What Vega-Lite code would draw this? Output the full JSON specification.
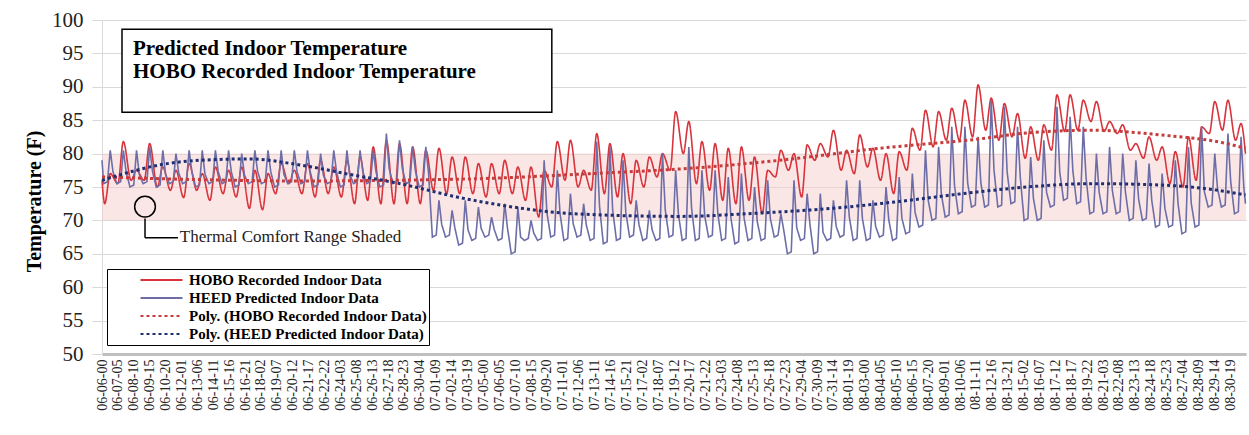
{
  "$schema": "https://vega.github.io/schema/vega-lite/v6.json",
  "width": 1144,
  "height": 334,
  "autosize": {"type": "none"},
  "padding": {"left": 102, "top": 20, "right": 3, "bottom": 81},
  "background": "white",
  "config": {"view": {"stroke": null}, "font": "Liberation Serif"},
  "datasets": {
    "band": [{"h": 0, "h2": 2088, "v": 70, "v2": 80}],
    "hobo": [
      {"h":0,"v":76},{"h":5,"v":72.5},{"h":15,"v":77},{"h":29,"v":75.5},{"h":39,"v":81.8},{"h":53,"v":76},{"h":63,"v":77.5},{"h":77,"v":76},{"h":87,"v":81.5},{"h":101,"v":75},{"h":111,"v":78},{"h":125,"v":74.5},{"h":135,"v":77.5},{"h":149,"v":73.4},{"h":159,"v":78.5},{"h":173,"v":74.5},{"h":183,"v":77},{"h":197,"v":73},{"h":207,"v":78},{"h":221,"v":74},{"h":231,"v":77.5},{"h":245,"v":73.5},{"h":255,"v":78},{"h":269,"v":71.8},{"h":279,"v":77.5},{"h":293,"v":71.6},{"h":303,"v":77},{"h":317,"v":74},{"h":327,"v":78.5},{"h":341,"v":75.5},{"h":351,"v":77.5},{"h":365,"v":74},{"h":375,"v":78.5},{"h":389,"v":73.5},{"h":399,"v":79},{"h":413,"v":74},{"h":423,"v":78},{"h":437,"v":73.5},{"h":447,"v":79},{"h":461,"v":72.5},{"h":471,"v":79.5},{"h":485,"v":73},{"h":495,"v":81},{"h":509,"v":72.5},{"h":519,"v":82},{"h":533,"v":72.5},{"h":543,"v":81.5},{"h":557,"v":72.5},{"h":567,"v":81},{"h":581,"v":72.5},{"h":591,"v":80.5},{"h":605,"v":74.5},{"h":615,"v":80.8},{"h":629,"v":74},{"h":639,"v":79.5},{"h":653,"v":74},{"h":663,"v":79.5},{"h":677,"v":74},{"h":687,"v":78.5},{"h":701,"v":73.5},{"h":711,"v":78.5},{"h":725,"v":74},{"h":735,"v":79},{"h":749,"v":74},{"h":759,"v":78},{"h":773,"v":73},{"h":783,"v":78},{"h":797,"v":70.5},{"h":807,"v":77.5},{"h":821,"v":75},{"h":831,"v":81.8},{"h":845,"v":76},{"h":855,"v":82},{"h":869,"v":75},{"h":879,"v":77.5},{"h":893,"v":74.5},{"h":903,"v":83},{"h":917,"v":74},{"h":927,"v":81.5},{"h":941,"v":73.5},{"h":951,"v":80},{"h":965,"v":72.5},{"h":975,"v":79},{"h":989,"v":75},{"h":999,"v":79.5},{"h":1013,"v":76.5},{"h":1023,"v":80},{"h":1037,"v":77.5},{"h":1047,"v":86.3},{"h":1061,"v":80},{"h":1071,"v":84.8},{"h":1085,"v":75.5},{"h":1095,"v":81.8},{"h":1109,"v":74.5},{"h":1119,"v":81.5},{"h":1133,"v":73},{"h":1143,"v":80.8},{"h":1157,"v":72.5},{"h":1167,"v":81},{"h":1181,"v":73},{"h":1191,"v":79.5},{"h":1205,"v":71},{"h":1215,"v":77.5},{"h":1229,"v":76.5},{"h":1239,"v":80.5},{"h":1253,"v":77.5},{"h":1263,"v":80},{"h":1277,"v":73.5},{"h":1287,"v":81.3},{"h":1301,"v":79},{"h":1311,"v":81.5},{"h":1325,"v":79.5},{"h":1335,"v":83.5},{"h":1349,"v":77.5},{"h":1359,"v":80.5},{"h":1373,"v":77},{"h":1383,"v":82.8},{"h":1397,"v":78},{"h":1407,"v":80.8},{"h":1421,"v":76},{"h":1431,"v":80},{"h":1445,"v":74},{"h":1455,"v":80.3},{"h":1469,"v":77.5},{"h":1479,"v":83.8},{"h":1493,"v":80.5},{"h":1503,"v":86.5},{"h":1517,"v":81},{"h":1527,"v":86.3},{"h":1541,"v":82},{"h":1551,"v":86.8},{"h":1565,"v":82},{"h":1575,"v":88},{"h":1589,"v":82.5},{"h":1599,"v":90.3},{"h":1613,"v":83.5},{"h":1623,"v":88.3},{"h":1637,"v":82},{"h":1647,"v":87.5},{"h":1661,"v":82.5},{"h":1671,"v":86},{"h":1685,"v":79.3},{"h":1695,"v":84},{"h":1709,"v":79},{"h":1719,"v":84.3},{"h":1733,"v":80.5},{"h":1743,"v":88.8},{"h":1757,"v":83.3},{"h":1767,"v":88.8},{"h":1781,"v":83.5},{"h":1791,"v":88},{"h":1805,"v":84.8},{"h":1815,"v":87.8},{"h":1829,"v":83.3},{"h":1839,"v":84.8},{"h":1853,"v":83},{"h":1863,"v":84.3},{"h":1877,"v":80.5},{"h":1887,"v":81.5},{"h":1901,"v":79.3},{"h":1911,"v":82.5},{"h":1925,"v":79},{"h":1935,"v":81},{"h":1949,"v":75.5},{"h":1959,"v":80.3},{"h":1973,"v":75},{"h":1983,"v":82.5},{"h":1997,"v":76},{"h":2007,"v":84},{"h":2021,"v":83},{"h":2031,"v":87.8},{"h":2045,"v":83.5},{"h":2055,"v":88},{"h":2069,"v":82},{"h":2079,"v":84.5},{"h":2087,"v":80}
    ],
    "heed": [
      {"h":0,"v":79},
      {"h":3,"v":75.5},{"h":10,"v":75.8},{"h":15,"v":80.5},{"h":20,"v":77.3},
      {"h":27,"v":75.5},{"h":34,"v":75.8},{"h":39,"v":80.5},{"h":44,"v":77.3},
      {"h":51,"v":75},{"h":58,"v":75.3},{"h":63,"v":80.5},{"h":68,"v":76.9},
      {"h":75,"v":75.5},{"h":82,"v":75.8},{"h":87,"v":81},{"h":92,"v":77.4},
      {"h":99,"v":75},{"h":106,"v":75.3},{"h":111,"v":80.5},{"h":116,"v":76.9},
      {"h":123,"v":75.5},{"h":130,"v":75.8},{"h":135,"v":80},{"h":140,"v":77.1},
      {"h":147,"v":75.5},{"h":154,"v":75.8},{"h":159,"v":80.5},{"h":164,"v":77.3},
      {"h":171,"v":75},{"h":178,"v":75.3},{"h":183,"v":80.5},{"h":188,"v":76.9},
      {"h":195,"v":75.5},{"h":202,"v":75.8},{"h":207,"v":80.5},{"h":212,"v":77.3},
      {"h":219,"v":75.5},{"h":226,"v":75.8},{"h":231,"v":80.5},{"h":236,"v":77.3},
      {"h":243,"v":75},{"h":250,"v":75.3},{"h":255,"v":80},{"h":260,"v":76.8},
      {"h":267,"v":75.5},{"h":274,"v":75.8},{"h":279,"v":80.5},{"h":284,"v":77.3},
      {"h":291,"v":75.5},{"h":298,"v":75.8},{"h":303,"v":80.5},{"h":308,"v":77.3},
      {"h":315,"v":75},{"h":322,"v":75.3},{"h":327,"v":80.5},{"h":332,"v":76.9},
      {"h":339,"v":75.5},{"h":346,"v":75.8},{"h":351,"v":80.5},{"h":356,"v":77.3},
      {"h":363,"v":75.5},{"h":370,"v":75.8},{"h":375,"v":80.5},{"h":380,"v":77.3},
      {"h":387,"v":75},{"h":394,"v":75.3},{"h":399,"v":80},{"h":404,"v":76.8},
      {"h":411,"v":75.5},{"h":418,"v":75.8},{"h":423,"v":80.5},{"h":428,"v":77.3},
      {"h":435,"v":75},{"h":442,"v":75.3},{"h":447,"v":80.5},{"h":452,"v":76.9},
      {"h":459,"v":75.5},{"h":466,"v":75.8},{"h":471,"v":80.5},{"h":476,"v":77.3},
      {"h":483,"v":75.5},{"h":490,"v":75.8},{"h":495,"v":80.5},{"h":500,"v":77.3},
      {"h":507,"v":75},{"h":514,"v":75.3},{"h":519,"v":83},{"h":524,"v":77.8},
      {"h":531,"v":75.5},{"h":538,"v":75.8},{"h":543,"v":82},{"h":548,"v":77.8},
      {"h":555,"v":75.5},{"h":562,"v":75.8},{"h":567,"v":81},{"h":572,"v":77.4},
      {"h":579,"v":75},{"h":586,"v":75.3},{"h":591,"v":81},{"h":596,"v":77.1},
      {"h":603,"v":67.5},{"h":610,"v":67.8},{"h":615,"v":73},{"h":620,"v":69.4},
      {"h":627,"v":67.5},{"h":634,"v":67.8},{"h":639,"v":71.5},{"h":644,"v":68.9},
      {"h":651,"v":66.3},{"h":658,"v":66.6},{"h":663,"v":73},{"h":668,"v":68.6},
      {"h":675,"v":67},{"h":682,"v":67.3},{"h":687,"v":72},{"h":692,"v":68.8},
      {"h":699,"v":67.5},{"h":706,"v":67.8},{"h":711,"v":70.5},{"h":716,"v":68.6},
      {"h":723,"v":67},{"h":730,"v":67.3},{"h":735,"v":72.5},{"h":740,"v":68.9},
      {"h":747,"v":65},{"h":754,"v":65.3},{"h":759,"v":72},{"h":764,"v":67.5},
      {"h":771,"v":67},{"h":778,"v":67.3},{"h":783,"v":70},{"h":788,"v":68.1},
      {"h":795,"v":67},{"h":802,"v":67.3},{"h":807,"v":79},{"h":812,"v":71.2},
      {"h":819,"v":67.5},{"h":826,"v":67.8},{"h":831,"v":77.5},{"h":836,"v":71},
      {"h":843,"v":67},{"h":850,"v":67.3},{"h":855,"v":74},{"h":860,"v":69.5},
      {"h":867,"v":67.5},{"h":874,"v":67.8},{"h":879,"v":72.5},{"h":884,"v":69.3},
      {"h":891,"v":67},{"h":898,"v":67.3},{"h":903,"v":81.8},{"h":908,"v":72.2},
      {"h":915,"v":66.5},{"h":922,"v":66.8},{"h":927,"v":81},{"h":932,"v":71.6},
      {"h":939,"v":67},{"h":946,"v":67.3},{"h":951,"v":79},{"h":956,"v":71.2},
      {"h":963,"v":67.5},{"h":970,"v":67.8},{"h":975,"v":73},{"h":980,"v":69.4},
      {"h":987,"v":67},{"h":994,"v":67.3},{"h":999,"v":71.5},{"h":1004,"v":68.6},
      {"h":1011,"v":67},{"h":1018,"v":67.3},{"h":1023,"v":80},{"h":1028,"v":71.6},
      {"h":1035,"v":67.5},{"h":1042,"v":67.8},{"h":1047,"v":77.5},{"h":1052,"v":71},
      {"h":1059,"v":67},{"h":1066,"v":67.3},{"h":1071,"v":81},{"h":1076,"v":71.9},
      {"h":1083,"v":67},{"h":1090,"v":67.3},{"h":1095,"v":77.5},{"h":1100,"v":70.7},
      {"h":1107,"v":67.5},{"h":1114,"v":67.8},{"h":1119,"v":77.5},{"h":1124,"v":71},
      {"h":1131,"v":67},{"h":1138,"v":67.3},{"h":1143,"v":76.5},{"h":1148,"v":70.3},
      {"h":1155,"v":66.5},{"h":1162,"v":66.8},{"h":1167,"v":77},{"h":1172,"v":70.3},
      {"h":1179,"v":67},{"h":1186,"v":67.3},{"h":1191,"v":75},{"h":1196,"v":69.8},
      {"h":1203,"v":67},{"h":1210,"v":67.3},{"h":1215,"v":76},{"h":1220,"v":70.2},
      {"h":1227,"v":67.5},{"h":1234,"v":67.8},{"h":1239,"v":71},{"h":1244,"v":68.7},
      {"h":1251,"v":65},{"h":1258,"v":65.3},{"h":1263,"v":76},{"h":1268,"v":68.9},
      {"h":1275,"v":67},{"h":1282,"v":67.3},{"h":1287,"v":74},{"h":1292,"v":69.5},
      {"h":1299,"v":65},{"h":1306,"v":65.3},{"h":1311,"v":74},{"h":1316,"v":68.2},
      {"h":1323,"v":67},{"h":1330,"v":67.3},{"h":1335,"v":73},{"h":1340,"v":69.1},
      {"h":1347,"v":67.5},{"h":1354,"v":67.8},{"h":1359,"v":76},{"h":1364,"v":70.5},
      {"h":1371,"v":67},{"h":1378,"v":67.3},{"h":1383,"v":76},{"h":1388,"v":70.2},
      {"h":1395,"v":67},{"h":1402,"v":67.3},{"h":1407,"v":73},{"h":1412,"v":69.1},
      {"h":1419,"v":67.5},{"h":1426,"v":67.8},{"h":1431,"v":75},{"h":1436,"v":70.1},
      {"h":1443,"v":67},{"h":1450,"v":67.3},{"h":1455,"v":76.5},{"h":1460,"v":70.3},
      {"h":1467,"v":68},{"h":1474,"v":68.3},{"h":1479,"v":77},{"h":1484,"v":71.2},
      {"h":1491,"v":69},{"h":1498,"v":69.3},{"h":1503,"v":80.5},{"h":1508,"v":73},
      {"h":1515,"v":70},{"h":1522,"v":70.3},{"h":1527,"v":81},{"h":1532,"v":73.9},
      {"h":1539,"v":70.5},{"h":1546,"v":70.8},{"h":1551,"v":84},{"h":1556,"v":75.2},
      {"h":1563,"v":71},{"h":1570,"v":71.3},{"h":1575,"v":84},{"h":1580,"v":75.6},
      {"h":1587,"v":72},{"h":1594,"v":72.3},{"h":1599,"v":82.5},{"h":1604,"v":75.7},
      {"h":1611,"v":72},{"h":1618,"v":72.3},{"h":1623,"v":88},{"h":1628,"v":77.6},
      {"h":1635,"v":72},{"h":1642,"v":72.3},{"h":1647,"v":87},{"h":1652,"v":77.3},
      {"h":1659,"v":72.5},{"h":1666,"v":72.8},{"h":1671,"v":84},{"h":1676,"v":76.5},
      {"h":1683,"v":70},{"h":1690,"v":70.3},{"h":1695,"v":79.5},{"h":1700,"v":73.3},
      {"h":1707,"v":70},{"h":1714,"v":70.3},{"h":1719,"v":82},{"h":1724,"v":74.2},
      {"h":1731,"v":72},{"h":1738,"v":72.3},{"h":1743,"v":87},{"h":1748,"v":77.3},
      {"h":1755,"v":73},{"h":1762,"v":73.3},{"h":1767,"v":85.5},{"h":1772,"v":77.4},
      {"h":1779,"v":72.5},{"h":1786,"v":72.8},{"h":1791,"v":84},{"h":1796,"v":76.5},
      {"h":1803,"v":71},{"h":1810,"v":71.3},{"h":1815,"v":80},{"h":1820,"v":74.2},
      {"h":1827,"v":71},{"h":1834,"v":71.3},{"h":1839,"v":81},{"h":1844,"v":74.5},
      {"h":1851,"v":71},{"h":1858,"v":71.3},{"h":1863,"v":80},{"h":1868,"v":74.2},
      {"h":1875,"v":70},{"h":1882,"v":70.3},{"h":1887,"v":79},{"h":1892,"v":73.2},
      {"h":1899,"v":70},{"h":1906,"v":70.3},{"h":1911,"v":78.5},{"h":1916,"v":73},
      {"h":1923,"v":69},{"h":1930,"v":69.3},{"h":1935,"v":77},{"h":1940,"v":71.8},
      {"h":1947,"v":69},{"h":1954,"v":69.3},{"h":1959,"v":79},{"h":1964,"v":72.5},
      {"h":1971,"v":68},{"h":1978,"v":68.3},{"h":1983,"v":81},{"h":1988,"v":72.6},
      {"h":1995,"v":69},{"h":2002,"v":69.3},{"h":2007,"v":84},{"h":2012,"v":74.3},
      {"h":2019,"v":72},{"h":2026,"v":72.3},{"h":2031,"v":80},{"h":2036,"v":74.8},
      {"h":2043,"v":72},{"h":2050,"v":72.3},{"h":2055,"v":83},{"h":2060,"v":75.9},
      {"h":2067,"v":71},{"h":2074,"v":71.3},{"h":2079,"v":82.5},{"h":2084,"v":75},
      {"h":2087,"v":72.5}
    ],
    "polyHobo": [
      {"h":0,"v":76.5},{"h":179,"v":76.1},{"h":361,"v":75.9},{"h":526,"v":76},{"h":708,"v":76.3},{"h":891,"v":77},{"h":1073,"v":77.8},{"h":1237,"v":79},{"h":1420,"v":80.8},{"h":1602,"v":82.2},{"h":1688,"v":83.1},{"h":1808,"v":83.5},{"h":1931,"v":82.8},{"h":2053,"v":81.5},{"h":2087,"v":80.8}
    ],
    "polyHeed": [
      {"h":0,"v":76},{"h":119,"v":78.5},{"h":179,"v":79},{"h":270,"v":79.2},{"h":361,"v":78.3},{"h":458,"v":76.8},{"h":544,"v":75.5},{"h":648,"v":73.5},{"h":750,"v":72},{"h":859,"v":71},{"h":1055,"v":70.6},{"h":1177,"v":71},{"h":1359,"v":72},{"h":1451,"v":72.8},{"h":1602,"v":74.3},{"h":1688,"v":75},{"h":1808,"v":75.5},{"h":1931,"v":75.3},{"h":2053,"v":74.3},{"h":2087,"v":73.8}
    ],
    "titleBox": [{"h": 36.5, "h2": 821, "v": 86.2, "v2": 98.6}],
    "titleText": [
      {"h": 56.6, "v": 95.7, "t": "Predicted Indoor Temperature"},
      {"h": 56.6, "v": 92.2, "t": "HOBO Recorded Indoor Temperature"}
    ],
    "marker": [{"h": 78.5, "v": 72.05}],
    "connector": [
      {"h": 78.5, "h2": 78.5, "v": 70.3, "v2": 67.4},
      {"h": 78.5, "h2": 138.7, "v": 67.4, "v2": 67.4}
    ],
    "note": [{"h": 142, "v": 67.45, "t": "Thermal Comfort Range Shaded"}]
  },
  "encoding": {
    "x": {
      "field": "h",
      "type": "quantitative",
      "scale": {"domain": [0, 2088], "nice": false, "zero": false},
      "axis": {
        "title": null,
        "values": [0,29,58,87,116,145,174,203,232,261,290,319,348,377,406,435,464,493,522,551,580,609,638,667,696,725,754,783,812,841,870,899,928,957,986,1015,1044,1073,1102,1131,1160,1189,1218,1247,1276,1305,1334,1363,1392,1421,1450,1479,1508,1537,1566,1595,1624,1653,1682,1711,1740,1769,1798,1827,1856,1885,1914,1943,1972,2001,2030,2059],
        "labelExpr": "timeFormat(datetime(2016, 5, 6, datum.value), '%m-%d-%H')",
        "labelAngle": 270,
        "labelAlign": "right",
        "labelBaseline": "middle",
        "labelFontSize": 14,
        "labelColor": "#222222",
        "labelPadding": 5,
        "labelOverlap": false,
        "labelFlush": false,
        "labelBound": false,
        "ticks": false,
        "grid": false,
        "domainColor": "#bfbfbf",
        "domainWidth": 3
      }
    },
    "y": {
      "field": "v",
      "type": "quantitative",
      "scale": {"domain": [50, 100], "nice": false, "zero": false},
      "axis": {
        "title": "Temperature (F)",
        "titleFontSize": 20,
        "titleFontWeight": "bold",
        "titleColor": "#000000",
        "titlePadding": 7,
        "titleY": 181,
        "values": [50,55,60,65,70,75,80,85,90,95,100],
        "labelFontSize": 21,
        "labelColor": "#222222",
        "labelPadding": 9,
        "tickSize": 10,
        "tickColor": "#d9d9d9",
        "gridColor": "#d9d9d9",
        "domainColor": "#d9d9d9"
      }
    }
  },
  "layer": [
    {
      "data": {"name": "band"},
      "mark": {"type": "rect", "fill": "#f7cdcd", "opacity": 0.5},
      "encoding": {"x2": {"field": "h2"}, "y2": {"field": "v2"}}
    },
    {
      "data": {"name": "hobo"},
      "mark": {"type": "line", "strokeWidth": 1.6, "interpolate": "monotone"},
      "encoding": {
        "color": {
          "datum": "HOBO Recorded Indoor Data",
          "type": "nominal",
          "scale": {
            "domain": ["HOBO Recorded Indoor Data", "HEED Predicted Indoor Data", "Poly. (HOBO Recorded Indoor Data)", "Poly. (HEED Predicted Indoor Data)"],
            "range": ["#d7343c", "#6d6ea8", "#c63c3c", "#1f2f72"]
          },
          "legend": {
            "title": null, "orient": "none", "legendX": 5, "legendY": 249,
            "symbolType": "stroke", "symbolSize": 1764, "symbolStrokeWidth": 2.2,
            "clipHeight": 18, "padding": 2, "symbolOffset": 30, "labelOffset": 5,
            "labelFontSize": 15, "labelFontWeight": "bold", "labelColor": "#000000",
            "labelLimit": 500, "rowPadding": 0, "strokeColor": "#000000", "fillColor": "#ffffff"
          }
        },
        "strokeDash": {
          "datum": "HOBO Recorded Indoor Data",
          "type": "nominal",
          "scale": {
            "domain": ["HOBO Recorded Indoor Data", "HEED Predicted Indoor Data", "Poly. (HOBO Recorded Indoor Data)", "Poly. (HEED Predicted Indoor Data)"],
            "range": [[1, 0], [1, 0], [3, 3], [3, 3]]
          },
          "legend": {
            "title": null, "orient": "none", "legendX": 5, "legendY": 249,
            "symbolType": "stroke", "symbolSize": 1764, "symbolStrokeWidth": 2.2,
            "clipHeight": 18, "padding": 2, "symbolOffset": 30, "labelOffset": 5,
            "labelFontSize": 15, "labelFontWeight": "bold", "labelColor": "#000000",
            "labelLimit": 500, "rowPadding": 0, "strokeColor": "#000000", "fillColor": "#ffffff"
          }
        }
      }
    },
    {
      "data": {"name": "heed"},
      "mark": {"type": "line", "strokeWidth": 1.6},
      "encoding": {
        "color": {"datum": "HEED Predicted Indoor Data", "type": "nominal", "legend": null},
        "strokeDash": {"datum": "HEED Predicted Indoor Data", "type": "nominal", "legend": null}
      }
    },
    {
      "data": {"name": "polyHobo"},
      "mark": {"type": "line", "strokeWidth": 3, "interpolate": "monotone"},
      "encoding": {
        "color": {"datum": "Poly. (HOBO Recorded Indoor Data)", "type": "nominal", "legend": null},
        "strokeDash": {"datum": "Poly. (HOBO Recorded Indoor Data)", "type": "nominal", "legend": null}
      }
    },
    {
      "data": {"name": "polyHeed"},
      "mark": {"type": "line", "strokeWidth": 3, "interpolate": "monotone"},
      "encoding": {
        "color": {"datum": "Poly. (HEED Predicted Indoor Data)", "type": "nominal", "legend": null},
        "strokeDash": {"datum": "Poly. (HEED Predicted Indoor Data)", "type": "nominal", "legend": null}
      }
    },
    {
      "data": {"name": "titleBox"},
      "mark": {"type": "rect", "fill": "#ffffff", "stroke": "#000000", "strokeWidth": 1.5},
      "encoding": {"x2": {"field": "h2"}, "y2": {"field": "v2"}}
    },
    {
      "data": {"name": "titleText"},
      "mark": {"type": "text", "align": "left", "baseline": "middle", "fontWeight": "bold", "fontSize": 21, "color": "#000000"},
      "encoding": {"text": {"field": "t"}}
    },
    {
      "data": {"name": "marker"},
      "mark": {"type": "point", "shape": "circle", "filled": false, "stroke": "#000000", "strokeWidth": 1.5, "size": 430, "opacity": 1}
    },
    {
      "data": {"name": "connector"},
      "mark": {"type": "rule", "color": "#000000", "strokeWidth": 1.5},
      "encoding": {"x2": {"field": "h2"}, "y2": {"field": "v2"}}
    },
    {
      "data": {"name": "note"},
      "mark": {"type": "text", "align": "left", "baseline": "middle", "fontSize": 17, "color": "#222222"},
      "encoding": {"text": {"field": "t"}}
    }
  ]
}
